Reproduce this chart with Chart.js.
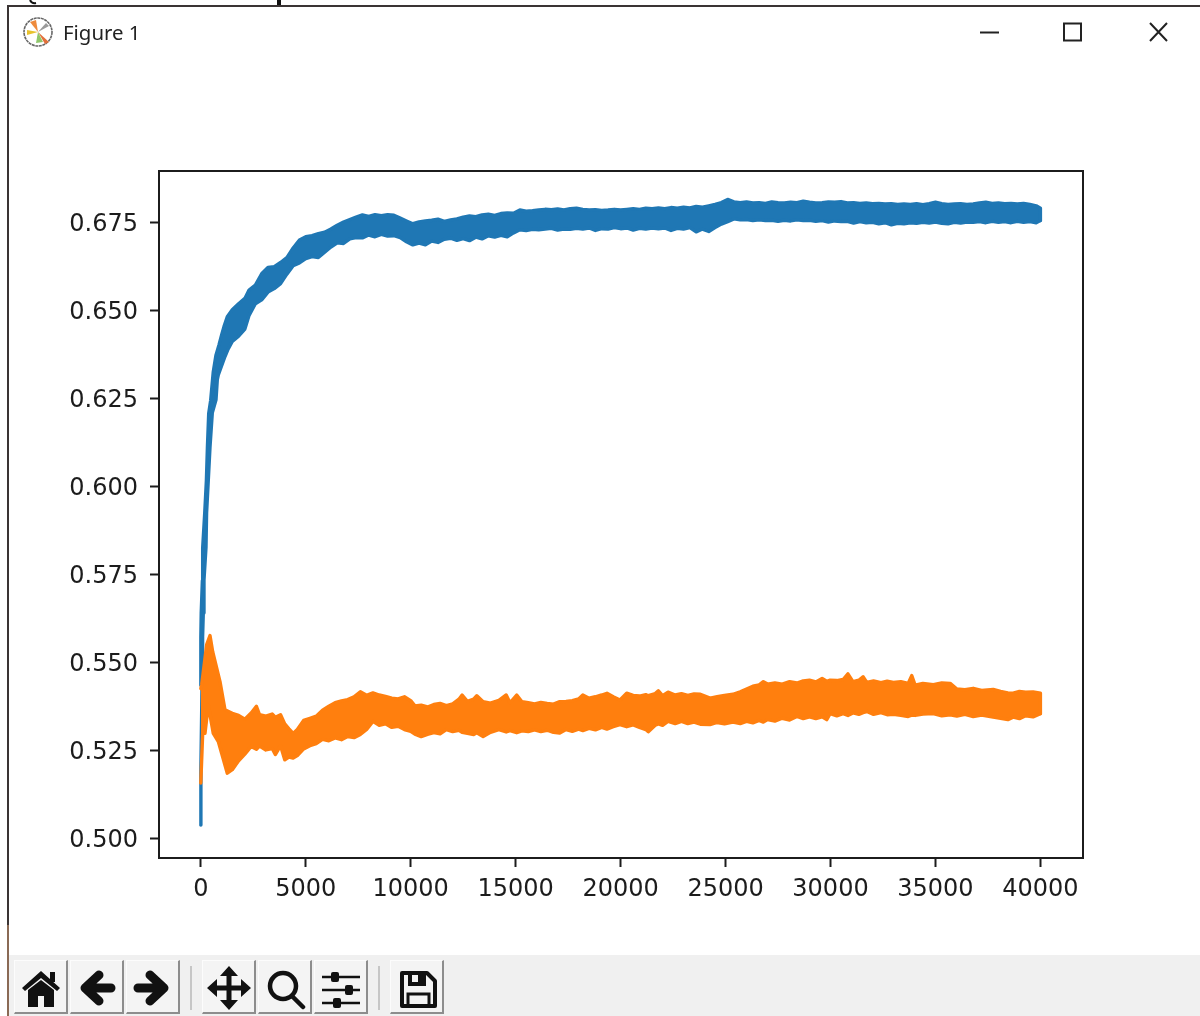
<!DOCTYPE html>
<html>
<head>
<meta charset="utf-8">
<title>Figure 1</title>
<script src="https://cdn.jsdelivr.net/npm/chart.js@4/dist/chart.umd.min.js"></script>
<style>
html,body{margin:0;padding:0;background:#fff;width:1200px;height:1016px;overflow:hidden}
#chart{position:absolute;left:0;top:0;filter:blur(.45px)}
.abs{position:absolute}
#title{left:63px;top:18px;font:20.4px/28px "Noto Sans",sans-serif;color:#222;filter:blur(.3px)}
#tb{left:9px;top:955px;width:1191px;height:61px;background:#f0f0f0}
.btn{position:absolute;top:960px;width:54px;height:54px;background:#f4f4f4;border-right:2px solid #8d8d8d;border-bottom:2px solid #8d8d8d;box-sizing:border-box;border-left:1px solid #fcfcfc;border-top:1px solid #fcfcfc;filter:blur(.3px)}
.sep{position:absolute;top:966px;width:2px;height:44px;background:#c6c6c6}
</style>
</head>
<body>
<canvas id="chart" width="1200" height="1016"></canvas>

<div class="abs" style="left:7px;top:5px;width:1193px;height:2px;background:#3a3434"></div>
<div class="abs" style="left:7px;top:5px;width:2px;height:950px;background:#3a3434"></div>
<div class="abs" style="left:7px;top:925px;width:2px;height:91px;background:#8a6a55"></div>
<svg class="abs" style="left:0;top:0" width="300" height="6"><path d="M30 0q2 4 6 3" stroke="#111" stroke-width="2" fill="none"/><rect x="277" y="0" width="4" height="5" fill="#111"/></svg>

<svg class="abs" style="left:22px;top:16px" width="32" height="32" viewBox="0 0 32 32">
<circle cx="16" cy="16" r="14" fill="#fff" stroke="#666" stroke-width="1.6" stroke-dasharray="3 .6"/>
<path d="M16 16 8 6l6-2z" fill="#ee8a3c"/><path d="M16 16l11 10-4 2z" fill="#e2703a"/><path d="M16 16l8-9 3 3z" fill="#9a9a9a"/>
<path d="M16 16 5 14v5z" fill="#e8c22e"/><path d="M16 16l-2 11 7-1z" fill="#8ec66a"/>
</svg>
<div class="abs" id="title">Figure 1</div>

<svg class="abs" style="left:970px;top:14px" width="210" height="36" fill="none" stroke="#222">
<line x1="10" y1="18.5" x2="29" y2="18.5" stroke-width="2"/>
<rect x="94" y="9.5" width="17" height="17" stroke-width="2"/>
<path d="M180 9l17 18M197 9l-17 18" stroke-width="2"/>
</svg>

<div class="abs" id="tb"></div>
<div class="btn" style="left:14px"></div>
<div class="btn" style="left:70px"></div>
<div class="btn" style="left:126px"></div>
<div class="sep" style="left:190px"></div>
<div class="btn" style="left:202px"></div>
<div class="btn" style="left:258px"></div>
<div class="btn" style="left:314px"></div>
<div class="sep" style="left:378px"></div>
<div class="btn" style="left:390px"></div>

<svg class="abs" style="left:0;top:955px;filter:blur(.5px)" width="460" height="61" viewBox="0 955 460 61">
<path d="M22 988 41 971l19 17-3 3-16-13-16 13z" fill="#111"/><path d="M28 990l13-10 13 10v17H44v-11h-6v11H28z" fill="#111"/><rect x="50" y="972" width="5" height="10" fill="#111"/>
<g fill="none" stroke="#111" stroke-width="9" stroke-linecap="round" stroke-linejoin="round">
<path d="M99 975 85 988l14 13M88 988h23"/>
<path d="M150 975l14 13-14 13M161 988h-23"/>
<path d="M229 971v34M212 988h34" stroke-width="5"/>
</g>
<g fill="#111"><path d="M229 966l9 10h-18zM229 1010l9-10h-18zM207 988l10-9v18zM251 988l-10-9v18z"/></g>
<circle cx="283" cy="986" r="13" fill="none" stroke="#111" stroke-width="4.5"/><line x1="292" y1="996" x2="303" y2="1007" stroke="#111" stroke-width="4.5" stroke-linecap="round"/>
<g stroke="#111" stroke-width="2.5"><line x1="322" y1="977" x2="360" y2="977"/><line x1="322" y1="990" x2="360" y2="990"/><line x1="322" y1="1003" x2="360" y2="1003"/></g>
<g fill="#111"><rect x="331" y="972" width="8" height="10" rx="2"/><rect x="345" y="985" width="8" height="10" rx="2"/><rect x="333" y="998" width="8" height="10" rx="2"/></g>
<path d="M402 973h25l8 8v25h-33z" fill="none" stroke="#111" stroke-width="4" stroke-linejoin="round"/><rect x="410" y="973" width="14" height="11" fill="none" stroke="#111" stroke-width="4"/><rect x="418" y="974" width="5" height="8" fill="#111"/><rect x="408" y="994" width="21" height="12" fill="none" stroke="#111" stroke-width="3"/>
</svg>

<script>
const xTickValues = [0,5000,10000,15000,20000,25000,30000,35000,40000];
const xTickLabels = ['0','5000','10000','15000','20000','25000','30000','35000','40000'];
const yTickValues = [0.5,0.525,0.55,0.575,0.6,0.625,0.65,0.675];
const yTickLabels = ['0.500','0.525','0.550','0.575','0.600','0.625','0.650','0.675'];

// blue run: start-up part, upper and lower edge of the noise
const blueStartHiX = [0,3,20,76,90,186,267,315,377,472,595,720,867,996,1105,1262];
const blueStartHiY = [0.5436,0.5573,0.5640,0.5733,0.5826,0.5923,0.6017,0.6110,0.6207,0.6245,0.6326,0.6372,0.6402,0.6431,0.6454,0.6482];
const blueStartLoX = [0,5,60,86,119,152,248,276,357,438,548,724,786,834,1153,1300];
const blueStartLoY = [0.5039,0.5200,0.5436,0.5573,0.5641,0.5735,0.5828,0.5925,0.6018,0.6112,0.6209,0.6246,0.6303,0.6317,0.6369,0.6390];
// blue run: settled part
const blueX = [1500,1800,2100,2300,2600,2900,3200,3500,3800,4100,4400,4700,5000,5300,5600,5900,6200,6500,6800,7100,7400,7700,8000,8300,8600,8900,9200,9500,9800,10100,10400,10700,11000,11300,11600,11900,12200,12500,12800,13100,13400,13700,14000,14300,14600,14900,15200,15500,15800,16100,16400,16700,17000,17300,17600,17900,18200,18500,18800,19100,19400,19700,20000,20300,20600,20900,21200,21500,21800,22100,22400,22700,23000,23300,23600,23900,24200,24500,24800,25100,25400,25700,26000,26300,26600,26900,27200,27500,27800,28100,28400,28700,29000,29300,29600,29900,30200,30500,30800,31100,31400,31700,32000,32300,32600,32900,33200,33500,33800,34100,34400,34700,35000,35300,35600,35900,36200,36500,36800,37100,37400,37700,38000,38300,38600,38900,39200,39500,39800,40000];
const blueHi = [0.6502,0.6519,0.6534,0.6558,0.6572,0.6604,0.6622,0.6624,0.6636,0.6650,0.6677,0.6700,0.6709,0.6712,0.6718,0.6722,0.6731,0.6742,0.6751,0.6758,0.6765,0.6771,0.6767,0.6772,0.6769,0.6772,0.6770,0.6762,0.6754,0.6746,0.6751,0.6754,0.6756,0.6759,0.6753,0.6757,0.6760,0.6765,0.6768,0.6766,0.6771,0.6773,0.6770,0.6775,0.6777,0.6776,
0.6785,0.6782,0.6783,0.6785,0.6787,0.6786,0.6788,0.6785,0.6789,0.6790,0.6787,0.6785,0.6786,0.6784,0.6785,0.6787,0.6785,0.6787,0.6789,0.6787,0.6790,0.6789,0.6791,0.6789,0.6792,0.6790,0.6793,0.6791,0.6795,0.6793,0.6797,0.6801,0.6806,0.6815,
0.6808,0.6806,0.6808,0.6805,0.6806,0.6804,0.6808,0.6806,0.6805,0.6807,0.6806,0.6810,0.6807,0.6805,0.6806,0.6808,0.6807,0.6809,0.6805,0.6806,0.6804,0.6805,0.6803,0.6804,0.6802,0.6803,0.6801,0.6802,0.6801,0.6803,0.6800,0.6803,0.6807,0.6803,0.6801,0.6802,0.6803,0.6801,0.6802,0.6805,0.6807,0.6804,0.6805,0.6803,0.6804,0.6802,0.6804,0.6801,0.6797,0.6790];
const blueLo = [0.6412,0.6427,0.6447,0.6486,0.6519,0.6530,0.6552,0.6562,0.6576,0.6603,0.6627,0.6635,0.6647,0.6653,0.6650,0.6665,0.6680,0.6692,0.6690,0.6703,0.6707,0.6706,0.6714,0.6709,0.6716,0.6711,0.6712,0.6707,0.6695,0.6686,0.6691,0.6686,0.6697,0.6693,0.6702,0.6705,0.6699,0.6704,0.6698,0.6708,0.6703,0.6712,0.6708,0.6713,0.6709,0.6720,
0.6729,0.6727,0.6730,0.6729,0.6731,0.6733,0.6728,0.6731,0.6730,0.6733,0.6731,0.6734,0.6727,0.6732,0.6731,0.6735,0.6732,0.6734,0.6728,0.6733,0.6731,0.6734,0.6732,0.6734,0.6727,0.6733,0.6731,0.6735,0.6723,0.6731,0.6724,0.6735,0.6745,0.6752,
0.6760,0.6757,0.6758,0.6755,0.6757,0.6755,0.6756,0.6753,0.6756,0.6754,0.6757,0.6755,0.6756,0.6753,0.6755,0.6751,0.6754,0.6752,0.6753,0.6748,0.6752,0.6749,0.6750,0.6746,0.6749,0.6743,0.6747,0.6746,0.6749,0.6747,0.6750,0.6748,0.6751,0.6747,0.6746,0.6750,0.6748,0.6751,0.6750,0.6752,0.6749,0.6753,0.6750,0.6752,0.6749,0.6753,0.6750,0.6752,0.6749,0.6755];

// orange run: start-up part, upper and lower edge of the noise
const orangeStartHiX = [0,43,281,438,567,915,1153];
const orangeStartHiY = [0.5426,0.5437,0.5551,0.5577,0.5531,0.5446,0.5366];
const orangeStartLoX = [0,90,200,357,595,834,996,1262];
const orangeStartLoY = [0.5158,0.5299,0.5299,0.5380,0.5299,0.5276,0.5242,0.5186];
// orange run: settled part
const orangeX = [1500,1800,2100,2400,2650,2800,3100,3400,3550,3800,4000,4200,4400,4600,4900,5200,5500,5800,6100,6400,6700,7000,7300,7600,7900,8200,8500,8800,9100,9400,9700,10000,10200,10500,10800,11100,11400,11700,12000,12300,12450,12700,13000,13150,13450,13800,14200,14550,14730,15050,15300,15600,15900,16200,16500,16800,17100,17400,17700,18000,18200,18500,18800,19100,19350,19650,19970,20290,20600,20900,21200,21320,21650,21800,22000,22260,22600,22900,23200,23500,23800,24260,24600,24950,25350,25700,26000,26300,26600,26800,27000,27350,27700,28050,28400,28700,29000,29300,29600,29820,29980,30300,30600,30830,31070,31350,31550,31730,32050,32400,32700,33000,33350,33700,33870,34030,34400,34900,35300,35700,36020,36400,36800,37200,37750,38100,38450,38700,39000,39300,39650,40000];
const orangeHi = [0.5356,0.5350,0.5339,0.5357,0.5376,0.5352,0.5348,0.5354,0.5345,0.5352,0.5326,0.5312,0.5299,0.5310,0.5336,0.5342,0.5348,0.5365,0.5376,0.5386,0.5391,0.5395,0.5403,0.5417,0.5407,0.5414,0.5408,0.5404,0.5399,0.5397,0.5403,0.5392,0.5377,0.5379,0.5374,0.5381,0.5384,0.5378,0.5383,0.5396,0.5408,0.5390,0.5396,0.5406,0.5389,0.5385,0.5393,0.5408,0.5386,0.5408,0.5389,0.5386,0.5383,0.5387,0.5384,0.5382,0.5389,0.5390,0.5392,0.5397,0.5408,0.5399,0.5403,0.5408,0.5413,0.5403,0.5394,0.5413,0.5407,0.5405,0.5409,0.5406,0.5412,0.5420,0.5406,0.5416,0.5408,0.5412,0.5407,0.5411,0.5410,0.5399,0.5403,0.5407,0.5410,0.5417,0.5425,0.5433,0.5437,0.5446,0.5439,0.5442,0.5439,0.5446,0.5442,0.5448,0.5450,0.5445,0.5455,0.5447,0.5450,0.5449,0.5452,0.5468,0.5446,0.5450,0.5460,0.5444,0.5448,0.5443,0.5447,0.5444,0.5446,0.5441,0.5463,0.5436,0.5441,0.5437,0.5442,0.5441,0.5425,0.5423,0.5427,0.5421,0.5424,0.5418,0.5414,0.5413,0.5418,0.5416,0.5417,0.5413];
const orangeLo = [0.5196,0.5221,0.5240,0.5262,0.5254,0.5263,0.5252,0.5256,0.5239,0.5264,0.5224,0.5232,0.5229,0.5236,0.5255,0.5264,0.5270,0.5282,0.5278,0.5286,0.5281,0.5290,0.5287,0.5296,0.5310,0.5333,0.5322,0.5326,0.5316,0.5319,0.5310,0.5305,0.5297,0.5290,0.5296,0.5301,0.5298,0.5310,0.5304,0.5308,0.5302,0.5299,0.5296,0.5301,0.5290,0.5302,0.5310,0.5303,0.5307,0.5301,0.5306,0.5304,0.5309,0.5304,0.5308,0.5302,0.5300,0.5310,0.5305,0.5311,0.5307,0.5313,0.5309,0.5316,0.5311,0.5318,0.5324,0.5318,0.5323,0.5316,0.5310,0.5304,0.5322,0.5326,0.5322,0.5333,0.5327,0.5333,0.5327,0.5331,0.5325,0.5324,0.5330,0.5326,0.5331,0.5327,0.5333,0.5329,0.5336,0.5331,0.5338,0.5334,0.5342,0.5337,0.5347,0.5341,0.5346,0.5341,0.5346,0.5338,0.5355,0.5349,0.5355,0.5350,0.5357,0.5353,0.5358,0.5361,0.5353,0.5358,0.5352,0.5353,0.5350,0.5347,0.5351,0.5350,0.5354,0.5355,0.5349,0.5352,0.5348,0.5353,0.5347,0.5351,0.5345,0.5342,0.5338,0.5345,0.5341,0.5349,0.5346,0.5355];

const BLUE = '#1f77b4', ORANGE = '#ff7f0e', INK = '#1c1c1c';
const zip = (xs, ys) => xs.map((x, i) => ({x, y: ys[i]}));
const band = (data, colour, fill) => ({
  data: data, borderColor: colour, backgroundColor: colour, borderWidth: 3.4,
  pointRadius: 0, tension: 0, fill: fill, borderJoinStyle: 'round', borderCapStyle: 'round'
});
// the upper edge closes down onto the lower edge at the last step
const closeEnd = (pts, lastLo) => pts.concat([{x: pts[pts.length - 1].x, y: lastLo}]);

const frame = {
  id: 'frame',
  afterDatasetsDraw(chart) {
    const a = chart.chartArea, c = chart.ctx;
    c.save(); c.strokeStyle = INK; c.lineWidth = 2;
    c.strokeRect(a.left, a.top, a.right - a.left, a.bottom - a.top);
    c.restore();
  }
};
// DejaVu sits a little high with a "middle" baseline: nudge the value labels down
const nudge = (s, dy) => {
  if (s._nudged) return;
  s._nudged = true;
  const orig = s._computeLabelItems;
  s._computeLabelItems = function (area) {
    const items = orig.call(this, area);
    items.forEach(i => { i.options.translation = [i.options.translation[0], i.options.translation[1] + dy]; });
    return items;
  };
};

new Chart(document.getElementById('chart'), {
  type: 'line',
  data: { datasets: [
    band(closeEnd(zip(orangeStartHiX, orangeStartHiY).concat(zip(orangeX, orangeHi)), orangeLo[orangeLo.length - 1]), ORANGE, false),
    band(zip(orangeStartLoX, orangeStartLoY).concat(zip(orangeX, orangeLo)), ORANGE, '-1'),
    band(closeEnd(zip(blueStartHiX, blueStartHiY).concat(zip(blueX, blueHi)), blueLo[blueLo.length - 1]), BLUE, false),
    band(zip(blueStartLoX, blueStartLoY).concat(zip(blueX, blueLo)), BLUE, '-1')
  ]},
  plugins: [frame],
  options: {
    responsive: false, animation: false, events: [],
    layout: { padding: { left: 0, top: 171, right: 117, bottom: 98 } },
    plugins: { legend: { display: false }, tooltip: { enabled: false }, title: { display: false } },
    scales: {
      x: {
        type: 'linear', min: -1991, max: 42029,
        afterFit(s) { s.height = 60; s.paddingLeft = 0; s.paddingRight = 0; },
        afterBuildTicks(s) { s.ticks = xTickValues.map(value => ({value})); },
        border: { color: INK, width: 2 },
        grid: { drawOnChartArea: false, tickLength: 9, tickWidth: 2, tickColor: INK },
        ticks: { autoSkip: false, maxRotation: 0, padding: 8, color: INK,
          font: { family: '"DejaVu Sans"', size: 24 },
          callback: v => xTickLabels[xTickValues.indexOf(v)] }
      },
      y: {
        type: 'linear', min: 0.49452, max: 0.68958,
        afterFit(s) { s.width = 159; s.paddingTop = 0; s.paddingBottom = 0; },
        afterBuildTicks(s) { s.ticks = yTickValues.map(value => ({value})); nudge(s, 2); },
        border: { color: INK, width: 2 },
        grid: { drawOnChartArea: false, tickLength: 9, tickWidth: 2, tickColor: INK },
        ticks: { autoSkip: false, padding: 12, color: INK,
          font: { family: '"DejaVu Sans"', size: 24 },
          callback: v => yTickLabels[yTickValues.indexOf(v)] }
      }
    }
  }
});
</script>
</body>
</html>
